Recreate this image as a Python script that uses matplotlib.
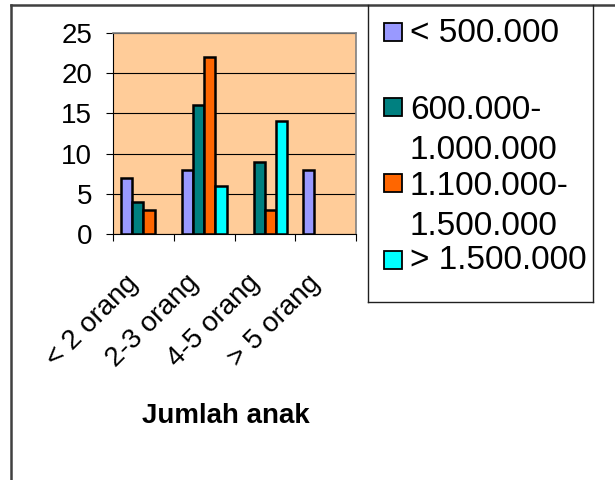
import numpy as np
import matplotlib
matplotlib.use('Agg')
import matplotlib.pyplot as plt
from matplotlib.lines import Line2D
from matplotlib.patches import Rectangle

plt.rcParams['font.family'] = ['Liberation Sans', 'DejaVu Sans']

# jumlah anak per kelompok pendapatan
categories = ['< 2 orang', '2-3 orang', '4-5 orang', '> 5 orang']
series_labels = ['< 500.000', '600.000-\n1.000.000', '1.100.000-\n1.500.000', '> 1.500.000']
series_values = [
    [7, 8, 0, 8],
    [4, 16, 9, 0],
    [3, 22, 3, 0],
    [0, 6, 14, 0],
]
series_colors = ['#9999FF', '#008080', '#FF6600', '#00FFFF']
y_ticks = [0, 5, 10, 15, 20, 25]

W, H = 615, 480


def fx(x):
    return x / W


def fy(y):
    return 1 - y / H


fig = plt.figure(figsize=(6.15, 4.8), dpi=100)
ax = fig.add_axes([fx(113), fy(234), fx(356) - fx(113), fy(33) - fy(234)])
ax.set_facecolor('#FFCC99')

x = np.arange(len(categories))
bar_w = 0.185
for i, (vals, col) in enumerate(zip(series_values, series_colors)):
    offs = (i - 1.5) * bar_w
    vals = np.array(vals, dtype=float)
    mask = vals > 0
    ax.bar(x[mask] + offs, vals[mask], bar_w, color=col, edgecolor='black',
           linewidth=1.8, zorder=3)

ax.set_xlim(-0.5, len(categories) - 0.5)
ax.set_ylim(0, 25)
ax.set_yticks(y_ticks)
ax.yaxis.grid(True, color='black', linewidth=0.8, zorder=1)
ax.tick_params(axis='y', length=5, width=0.8, pad=10, labelsize=20)

ax.set_xticks(x)
ax.set_xticklabels(categories, rotation=45, ha='right', va='bottom',
                   rotation_mode='anchor', fontsize=20)
ax.set_xticks(np.arange(len(categories) + 1) - 0.5, minor=True)
ax.tick_params(axis='x', which='major', length=0, pad=39)
ax.tick_params(axis='x', which='minor', length=5, width=0.8)

for s in ['left', 'bottom']:
    ax.spines[s].set_color('black')
    ax.spines[s].set_linewidth(0.8)
for s in ['top', 'right']:
    ax.spines[s].set_color('#808080')
    ax.spines[s].set_linewidth(1.2)

ax.set_xlabel('Jumlah anak', fontsize=20, fontweight='bold', va='center')
ax.xaxis.set_label_coords(0.465, -0.905)

# outer frame and legend box
frame = dict(color='#404040', linewidth=1.8, transform=fig.transFigure)
fig.add_artist(Line2D([fx(11), fx(11)], [fy(5), 0], **frame))
fig.add_artist(Line2D([fx(11), 1], [fy(5), fy(5)], **frame))
box = dict(color='#202020', linewidth=1.0, transform=fig.transFigure)
fig.add_artist(Line2D([fx(368), fx(368)], [fy(5), fy(302)], **box))
fig.add_artist(Line2D([fx(593), fx(593)], [fy(5), fy(302)], **box))
fig.add_artist(Line2D([fx(368), fx(593)], [fy(302), fy(302)], **box))

marker_y = [32, 107, 183, 260]
text_y = [30, 107, 183, 257]
line_gap = 40
for lbl, col, my, ty in zip(series_labels, series_colors, marker_y, text_y):
    fig.add_artist(Rectangle((fx(384), fy(my + 9)), fx(18), 18 / H,
                             facecolor=col, edgecolor='black', linewidth=1.3,
                             transform=fig.transFigure))
    for k, part in enumerate(lbl.split('\n')):
        fig.text(fx(410), fy(ty + k * line_gap), part, fontsize=24,
                 ha='left', va='center_baseline')

fig.savefig('out.png', dpi=100)
